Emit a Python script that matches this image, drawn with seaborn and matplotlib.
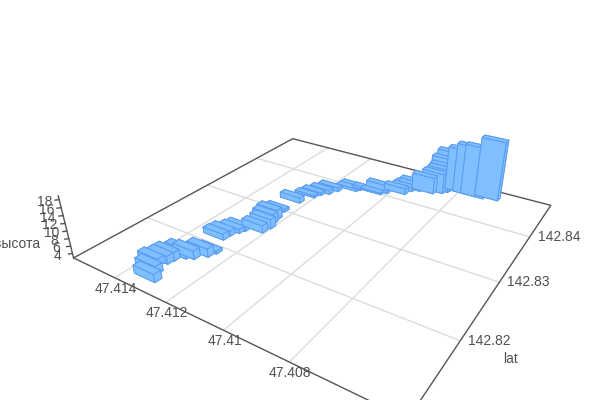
import numpy as np
import pandas as pd
import matplotlib
matplotlib.use('Agg')
import matplotlib.pyplot as plt
import matplotlib.transforms as mtransforms
import seaborn as sns

# bar positions and tops
lon = [47.4133, 47.41355, 47.4138, 47.41366, 47.41362, 47.41341, 47.4132, 47.41294, 47.41285,
       47.4132, 47.41318, 47.41305, 47.41297, 47.41246, 47.4124, 47.41252, 47.41257, 47.41274, 47.41268,
       47.41262, 47.41242, 47.41232, 47.41212, 47.41198, 47.41144, 47.41136, 47.41092, 47.41061, 47.41047,
       47.4099, 47.40979, 47.40977, 47.40955, 47.4091, 47.40883, 47.40871, 47.40868, 47.40869, 47.40857,
       47.40811, 47.40779, 47.4075, 47.40703]
lat = [142.8116, 142.8126, 142.8137, 142.8145, 142.8152, 142.8162, 142.8166, 142.8177, 142.8186,
       142.8211, 142.8221, 142.8231, 142.8238, 142.8246, 142.8258, 142.8268, 142.8278, 142.8286, 142.8297,
       142.8325, 142.8346, 142.8356, 142.8364, 142.8376, 142.8389, 142.8394, 142.8398, 142.8398, 142.8405,
       142.8415, 142.8427, 142.8434, 142.8433, 142.8436, 142.8443, 142.8449, 142.8453, 142.8459, 142.8465,
       142.8459, 142.8457, 142.8457, 142.8462]
height = [4.9, 4.9, 4.7, 4.9, 5.0, 5.2, 5.0, 5.0, 3.5,
          4.4, 4.2, 3.9, 3.9, 4.8, 5.4, 5.4, 5.5, 4.3, 3.5,
          4.3, 3.35, 3.5, 3.9, 3.9, 3.5, 3.9, 3.5, 3.2, 5.1,
          4.5, 3.9, 3.9, 5.4, 7.5, 8.6, 9.5, 10.1, 11.7, 13.4,
          15.4, 17.1, 17.4, 19.8]

lon_ticks = [47.408, 47.41, 47.412, 47.414]
lat_ticks = [142.82, 142.83, 142.84]
z_ticks = [4, 6, 8, 10, 12, 14, 16, 18]

lon_range = (47.4158, 47.4050)
lat_range = (142.81, 142.8486)
z_range = (2.8, 19.0)
bar_dx = 0.00082
bar_dy = 0.0009

df = pd.DataFrame({'lon': lon, 'lat': lat, 'height': height})
# far bars first so the near ones paint over them
df['depth'] = 0.544 * (lon_range[0] - df['lon']) / 0.0108 - 0.838 * (df['lat'] - lat_range[0]) / 0.0386
df = df.sort_values('depth').reset_index(drop=True)

sns.set_theme(style='white')
plt.rcParams['font.family'] = ['Liberation Sans', 'DejaVu Sans']

fig = plt.figure(figsize=(6, 4), dpi=100)
ax = fig.add_axes([-183.5 / 600, -314.5 / 400, 1000 / 600, 1000 / 400],
                  projection='3d', computed_zorder=False)
ax.set_proj_type('persp', focal_length=0.10989)
ax.view_init(elev=28.4, azim=-57)
ax.set_xlim(*lon_range)
ax.set_ylim(*lat_range)
ax.set_zlim(*z_range)
ax.set_box_aspect((1, 1, 0.19), zoom=0.488)
ax.set_axis_off()

grid_c = '#dcdcdc'
axis_c = '#555555'
text_c = '#505050'


def shifted(dx, dy):
    return mtransforms.offset_copy(ax.transData, fig=fig, x=dx, y=dy, units='dots')


z0 = z_range[0]
for v in lon_ticks:
    ax.plot([v, v], lat_range, [z0, z0], color=grid_c, lw=1, zorder=1)
    ax.text(v, lat_range[0], z0, f'{v:g}', color=text_c, fontsize=10, ha='center', va='center',
            transform=shifted(1, -11))
for v in lat_ticks:
    ax.plot(lon_range, [v, v], [z0, z0], color=grid_c, lw=1, zorder=1)
    ax.text(lon_range[1], v, z0, f'{v:g}', color=text_c, fontsize=10, ha='left', va='center',
            transform=shifted(8, 0))

# frame of the floor
ax.plot([lon_range[0], lon_range[1], lon_range[1], lon_range[0], lon_range[0]],
        [lat_range[0], lat_range[0], lat_range[1], lat_range[1], lat_range[0]],
        [z0] * 5, color=axis_c, lw=1, zorder=1.5)

# height axis
ax.plot([lon_range[0]] * 2, [lat_range[0]] * 2, z_range, color=axis_c, lw=1, zorder=1.5)
for v in z_ticks:
    ax.plot([lon_range[0], lon_range[0] + 0.00008], [lat_range[0], lat_range[0] - 0.0003], [v, v],
            color=axis_c, lw=1, zorder=1.5)
    ax.text(lon_range[0], lat_range[0], v, str(v), color=text_c, fontsize=10, ha='center', va='center',
            transform=shifted(-15, -2))
ax.text(lon_range[0], lat_range[0], 11, 'высота', color=text_c, fontsize=10, ha='right', va='center',
        transform=shifted(-26, -17))
ax.text(lon_range[1], lat_ticks[0], z0, 'lat', color=text_c, fontsize=10, ha='left', va='center',
        transform=shifted(43, -18))

for i, row in df.iterrows():
    ax.bar3d(row['lon'] - bar_dx / 2, row['lat'], z0, bar_dx, bar_dy, row['height'] - z0,
             color='#80bfff', edgecolor='#5a9cf0', linewidth=0.7, shade=False, zorder=3 + i)

fig.savefig('out.png', dpi=100)
